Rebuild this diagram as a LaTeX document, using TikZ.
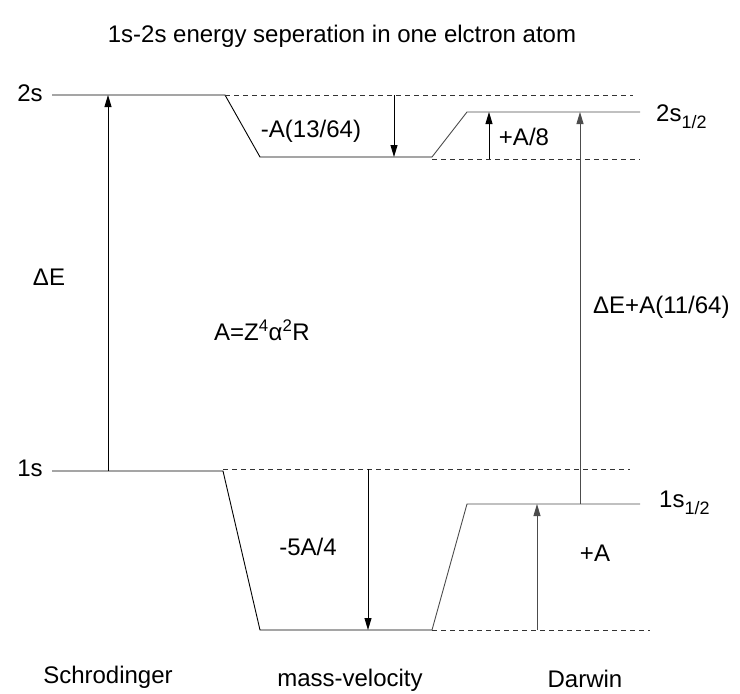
\documentclass[tikz,border=0pt]{standalone}
\usepackage{fontspec}
\setmainfont{Liberation Sans}
\usetikzlibrary{arrows.meta}
\begin{document}
\begin{tikzpicture}[x=1pt,y=-1pt,
  lvl/.style={line width=0.9pt,black},
  glvl/.style={line width=0.9pt,black!70},
  dsh/.style={line width=0.8pt,black!80,dash pattern=on 5pt off 4pt},
  arr/.style={line width=0.9pt,-{Triangle[length=12pt,width=7pt]}},
  garr/.style={arr,black!70},
  lbl/.style={font=\fontsize{24}{28}\selectfont,inner sep=0pt}]
\useasboundingbox (0,0) rectangle (740,694);
% title
\node[lbl] (title) at (342,36) {1s-2s energy seperation in one elctron atom};
% coordinates: Schrodinger
\coordinate (s2a) at (52,95); \coordinate (s2b) at (225,95);
\coordinate (s1a) at (52,471); \coordinate (s1b) at (223,471);
% mass-velocity
\coordinate (m2a) at (260,157); \coordinate (m2b) at (432,157);
\coordinate (m1a) at (260,630); \coordinate (m1b) at (432,630);
% Darwin
\coordinate (d2a) at (467,112); \coordinate (d2b) at (640,112);
\coordinate (d1a) at (467,504); \coordinate (d1b) at (640,504);
% dashed ends
\coordinate (dt) at (633,95); \coordinate (dm) at (640,159); \coordinate (dm0) at (432,159);
\coordinate (db) at (630,469); \coordinate (db0) at (223,469);
\coordinate (dl) at (650,630);
% levels
\draw[lvl] (s2a) -- (s2b) -- (m2a) -- (m2b);
\draw[glvl] (m2b) -- (d2a) -- (d2b);
\draw[lvl] (s1a) -- (s1b) -- (m1a) -- (m1b);
\draw[glvl] (m1b) -- (d1a) -- (d1b);
% dashed
\draw[dsh] (s2b) -- (dt);
\draw[dsh] (dm0) -- (dm);
\draw[dsh] (db0) -- (db);
\draw[dsh] (m1b) -- (dl);
% arrows
\coordinate (aE0) at (108,471); \coordinate (aE1) at (108,95);
\draw[arr] (aE0) -- (aE1);
\coordinate (a13a) at (394,95); \coordinate (a13b) at (394,157);
\draw[arr] (a13a) -- (a13b);
\coordinate (a8a) at (489,159); \coordinate (a8b) at (489,112);
\draw[arr] (a8a) -- (a8b);
\coordinate (a11a) at (580,504); \coordinate (a11b) at (580,112);
\draw[garr] (a11a) -- (a11b);
\coordinate (a54a) at (368,469); \coordinate (a54b) at (368,630);
\draw[arr] (a54a) -- (a54b);
\coordinate (aAa) at (537,630); \coordinate (aAb) at (537,504);
\draw[garr] (aAa) -- (aAb);
% labels
\node[lbl] (l2s) at (30,93) {2s};
\node[lbl] (l1s) at (30,468) {1s};
\node[lbl,anchor=west] (l2s12) at (656,117) {2s\raisebox{-7pt}{\fontsize{18}{20}\selectfont 1/2}};
\node[lbl,anchor=west] (l1s12) at (659,503) {1s\raisebox{-7pt}{\fontsize{18}{20}\selectfont 1/2}};
\node[lbl] (lA13) at (311,131) {-A(13/64)};
\node[lbl] (lA8) at (524,137) {+A/8};
\node[lbl] (ldE) at (49,277) {ΔE};
\node[lbl,anchor=west] (ldE11) at (593,307) {ΔE+A(11/64)};
\node[lbl] (lAZ) at (262,330) {A=Z\textsuperscript{4}α\textsuperscript{2}R};
\node[lbl] (l54) at (308,547) {-5A/4};
\node[lbl] (lA) at (595,553) {+A};
\node[lbl] (lsch) at (108,677) {Schrodinger};
\node[lbl] (lmv) at (350,680) {mass-velocity};
\node[lbl] (ldar) at (585,679) {Darwin};
\end{tikzpicture}
\end{document}
